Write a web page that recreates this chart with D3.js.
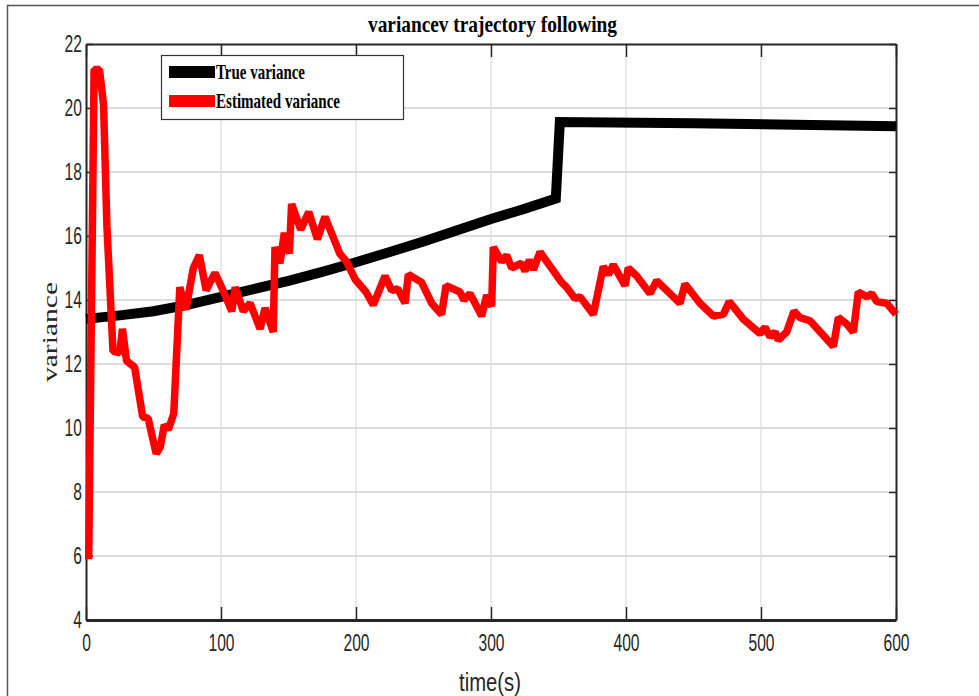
<!DOCTYPE html>
<html lang="en">
<head>
  <meta charset="UTF-8">
  <title>variance trajectory</title>
  <script src="https://cdn.jsdelivr.net/npm/d3@7"></script>
  <style>
    body { margin: 0; background: #fff; }
    .tick text { font-family: 'Liberation Sans', Arial, sans-serif; font-size: 23px; fill: #262626; }
  </style>
</head>
<body>
  <svg id="chart"></svg>
  <script>
    // true variance (time, value)
    const trueT = [0, 25, 50, 75, 100, 125, 150, 175, 200, 225, 250, 275, 300, 325, 348, 351, 450, 600];
    const trueV = [13.41, 13.52, 13.65, 13.85, 14.1, 14.35, 14.6, 14.88, 15.18, 15.5, 15.83, 16.18, 16.53, 16.85, 17.17, 19.56, 19.52, 19.43];

    // estimated variance (time, value)
    const estT = [2, 6, 10, 13, 15.5, 20, 25, 27, 30, 36, 42, 46, 52, 55, 58, 61, 65, 69.5, 74, 79.5,
      84, 89, 95.5, 101.5, 108, 110.5, 116.5, 121.5, 129, 132.6, 138.7, 140, 143.7, 146.9, 150.6, 152.3,
      159, 165, 171.4, 177, 188, 193, 199.3, 207.4, 212.8, 221.5, 226.4, 231, 236.3, 238.8, 248.6, 256,
      263.4, 266.7, 277, 280, 284.4, 293.1, 296.8, 300.5, 301.7, 307.9, 311.6, 315.3, 322.7, 325.2, 328.4,
      331.4, 336.3, 352.3, 356, 362.2, 365.9, 369.6, 375.8, 383.2, 386.9, 390.6, 399.3, 401.7, 407.9,
      417.8, 422.7, 432.6, 440, 443.7, 454.8, 464.7, 472.1, 476.5, 486.9, 499.3, 503, 506.7, 510.4,
      512.8, 519, 524.4, 528.9, 536.3, 553.6, 557.3, 563.5, 568.4, 572.1, 578.3, 582, 585.7, 593.1, 600];
    const estV = [5.9, 21.2, 21.2, 20.1, 16.3, 12.4, 12.35, 13.1, 12.1, 11.9, 10.35, 10.3, 9.2, 9.4, 10.1, 9.95, 10.45, 14.4, 13.7, 15.0,
      15.4, 14.3, 14.85, 14.3, 13.65, 14.4, 13.65, 13.9, 13.1, 13.75, 13.0, 15.65, 15.15, 16.1, 15.45, 17.0,
      16.2, 16.75, 15.9, 16.6, 15.45, 15.2, 14.65, 14.25, 13.85, 14.75, 14.3, 14.35, 13.9, 14.8, 14.55, 13.9,
      13.55, 14.45, 14.25, 14.0, 14.2, 13.5, 14.15, 13.8, 15.65, 15.2, 15.4, 15.0, 15.15, 14.9, 15.25,
      14.95, 15.5, 14.55, 14.4, 14.05, 14.1, 13.9, 13.55, 15.05, 14.8, 15.1, 14.45, 15.0, 14.75,
      14.2, 14.6, 14.2, 13.9, 14.5, 13.9, 13.5, 13.55, 13.95, 13.4, 12.95, 13.15, 12.85, 13.0,
      12.75, 13.0, 13.65, 13.45, 13.35, 12.55, 13.45, 13.25, 13.0, 14.25, 14.1, 14.2, 13.95, 13.9, 13.55];

    const xTicks = [0, 100, 200, 300, 400, 500, 600];
    const yTicks = [4, 6, 8, 10, 12, 14, 16, 18, 20, 22];
    const legendLabels = ['True variance', 'Estimated variance'];
    const legendColors = ['#000000', '#ff0000'];

    let width = 979, height = 696;
    let margin = { top: 44, right: 83, bottom: 76, left: 86 };
    let w = width - margin.left - margin.right;
    let h = height - margin.top - margin.bottom;
    let squeeze = 0.68; // the original text is horizontally condensed

    let svg = d3.select('#chart').attr('width', width).attr('height', height);

    // figure frame
    svg.append('path')
       .attr('d', `M7.5,${height} V5.5 H${width}`)
       .attr('fill', 'none')
       .attr('stroke', '#555')
       .attr('stroke-width', 1.5);

    let g = svg.append('g').attr('transform', `translate(${margin.left},${margin.top})`);

    let x = d3.scaleLinear().domain([0, 600]).range([0, w]);
    let y = d3.scaleLinear().domain([4, 22]).range([h, 0]);

    // grid
    g.append('g').selectAll('line').data(xTicks.slice(1, -1)).enter().append('line')
     .attr('x1', d => x(d)).attr('x2', d => x(d)).attr('y1', 0).attr('y2', h)
     .attr('stroke', '#dcdcdc').attr('stroke-width', 1.2);
    g.append('g').selectAll('line').data(yTicks.slice(1, -1)).enter().append('line')
     .attr('x1', 0).attr('x2', w).attr('y1', d => y(d)).attr('y2', d => y(d))
     .attr('stroke', '#dcdcdc').attr('stroke-width', 2);

    // axes
    let xAxis = g.append('g').attr('transform', `translate(0,${h})`)
      .call(d3.axisBottom(x).tickValues(xTicks).tickSizeInner(-13).tickSizeOuter(0).tickPadding(15));
    xAxis.selectAll('.tick text').attr('transform', `scale(${squeeze},1)`);
    let yAxis = g.append('g')
      .call(d3.axisLeft(y).tickValues(yTicks).tickSizeInner(-7).tickSizeOuter(0));
    yAxis.selectAll('.tick text')
         .attr('x', -4 / squeeze)
         .attr('transform', `scale(${squeeze},1)`);
    g.append('g').attr('transform', `translate(${w},0)`)
      .call(d3.axisRight(y).tickValues(yTicks).tickSizeInner(-7).tickSizeOuter(0).tickFormat(''));
    g.append('g')
      .call(d3.axisTop(x).tickValues(xTicks).tickSizeInner(-13).tickSizeOuter(0).tickFormat(''));
    g.selectAll('.domain').attr('stroke', '#262626').attr('stroke-width', 2);
    g.selectAll('.tick line').attr('stroke', '#262626').attr('stroke-width', 1.5);
    xAxis.select('.domain').attr('stroke-width', 3);

    // lines
    let line = d3.line().x(d => x(d[0])).y(d => y(d[1]));
    g.append('path')
     .datum(trueT.map((t, i) => [t, trueV[i]]))
     .attr('d', line)
     .attr('fill', 'none')
     .attr('stroke', legendColors[0])
     .attr('stroke-width', 10)
     .attr('stroke-linejoin', 'miter');
    g.append('path')
     .datum(estT.map((t, i) => [t, estV[i]]))
     .attr('d', line)
     .attr('fill', 'none')
     .attr('stroke', legendColors[1])
     .attr('stroke-width', 7.5)
     .attr('stroke-linejoin', 'bevel');

    // legend
    let legend = svg.append('g').attr('transform', 'translate(161,55)');
    legend.append('rect')
          .attr('x', 0.5).attr('y', 0.5).attr('width', 242).attr('height', 64)
          .attr('fill', '#fff').attr('stroke', '#333').attr('stroke-width', 1.2);
    let legendY = [17, 46];
    let legendW = [89, 124];
    legendLabels.forEach((label, i) => {
      legend.append('line')
            .attr('x1', 8).attr('x2', 54).attr('y1', legendY[i]).attr('y2', legendY[i])
            .attr('stroke', legendColors[i]).attr('stroke-width', 12);
      legend.append('text')
            .attr('x', 55).attr('y', legendY[i] + 7)
            .attr('textLength', legendW[i]).attr('lengthAdjust', 'spacingAndGlyphs')
            .style('font-family', "'Liberation Serif', 'Times New Roman', serif")
            .style('font-weight', 'bold').style('font-size', '21px')
            .text(label);
    });

    // title and labels
    svg.append('text')
       .attr('x', 368).attr('y', 32)
       .attr('textLength', 249).attr('lengthAdjust', 'spacingAndGlyphs')
       .style('font-family', "'Liberation Serif', 'Times New Roman', serif")
       .style('font-weight', 'bold').style('font-size', '24px')
       .text('variancev trajectory following');
    svg.append('text')
       .attr('x', 282).attr('y', 57)
       .attr('transform', 'rotate(-90) translate(-664,0)')
       .attr('textLength', 100).attr('lengthAdjust', 'spacingAndGlyphs')
       .style('font-family', "'Liberation Serif', 'Times New Roman', serif")
       .style('font-size', '22px').style('fill', '#262626')
       .text('variance');
    svg.append('text')
       .attr('x', 459).attr('y', 691)
       .attr('textLength', 62).attr('lengthAdjust', 'spacingAndGlyphs')
       .style('font-family', "'Liberation Sans', Arial, sans-serif")
       .style('font-size', '25px').style('fill', '#262626')
       .text('time(s)');
  </script>
</body>
</html>
